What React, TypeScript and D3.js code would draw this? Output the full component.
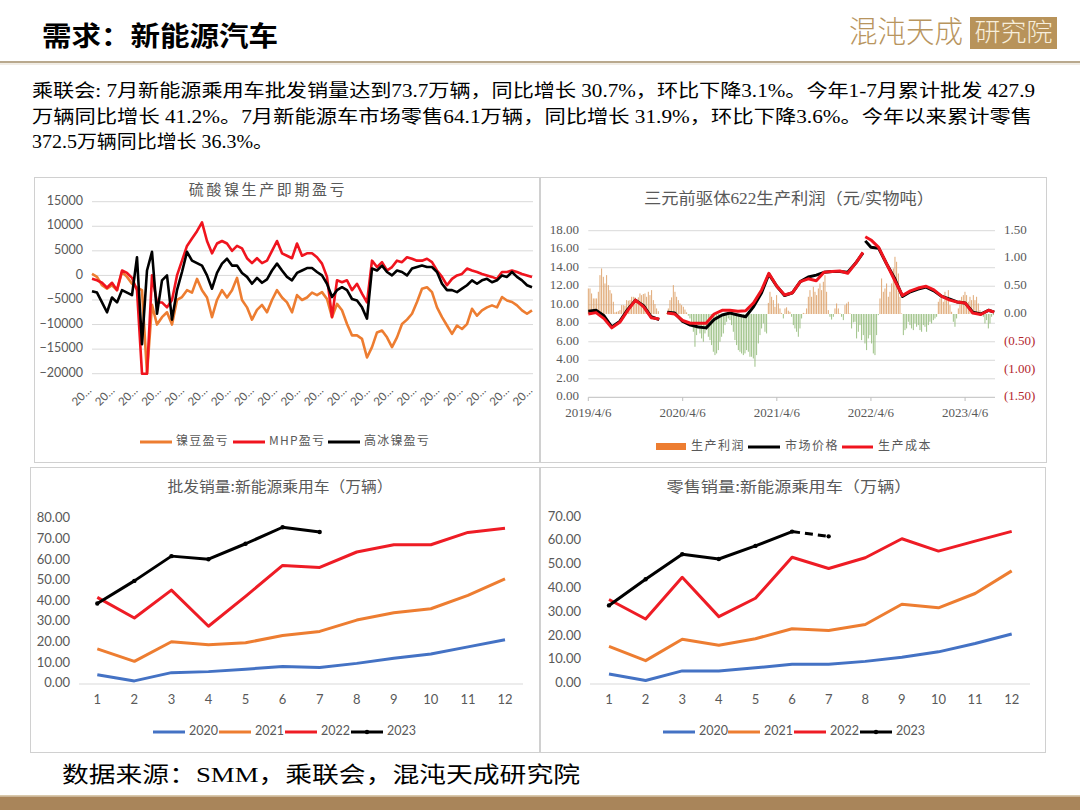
import React from 'react';
import * as d3 from 'd3';

// ---------- header text ----------
const pageTitle = '需求：新能源汽车';
const summaryLines = [
  '乘联会: 7月新能源乘用车批发销量达到73.7万辆，同比增长 30.7%，环比下降3.1%。今年1-7月累计批发 427.9',
  '万辆同比增长 41.2%。7月新能源车市场零售64.1万辆，同比增长 31.9%，环比下降3.6%。今年以来累计零售',
  '372.5万辆同比增长 36.3%。',
];
const sourceText = '数据来源：SMM，乘联会，混沌天成研究院';

// ---------- chart 1: 硫酸镍生产即期盈亏 ----------
const nickelBean = [
  300, -300, -2000, -2700, -2000, -3000, 700, -300, -1700, -2500,
  -3000, -20000, -6000, -10000, -8500, -7500, -10000, -5000, -4400, -3000,
  -3500, -700, -3000, -4500, -8500, -5000, -3000, -4500, -3000, -500,
  -5000, -6500, -9000, -7000, -6000, -7500, -5000, -3000, -4500, -5500,
  -7500, -4000, -5000, -4500, -3500, -4000, -3400, -4800, -8500, -5800,
  -7100, -9900, -12200, -12200, -12900, -16700, -14600, -11600, -11200, -12600,
  -14600, -12600, -9900, -9000, -7800, -5400, -2700, -2400, -3400, -6500,
  -8500, -10200, -11900, -10200, -10900, -9900, -6800, -8200, -7100, -6500,
  -6100, -6500, -4400, -5100, -5400, -6100, -7100, -7800, -7100,
];
const mhpProfit = [
  -700, -1000, -1500, -2500, -1500, -3000, 1000, 500, -500, -3000,
  -20000, -20000, 0, -5500, -5500, -6500, -5000, 0, 3000, 6000,
  7500, 9000, 10800, 7000, 4500, 6500, 7000, 6500, 5000, 6000,
  5500, 3500, 2500, 3500, 2500, 3000, 5000, 7000, 4500, 4000,
  3500, 6500, 4000, 4500, 4500, 3700, 2400, -300, -8500, -1000,
  -1400, -1000, -3000, -1700, -3700, -5500, 3000, 1700, 2700, 1000,
  1700, 3000, 2700, 3700, 3400, 3000, 3000, 3400, 2700, 1000,
  -300, -2000, -700, 0, 300, 1400, 1000, 700, 300, 0,
  -300, -700, 700, 700, 1000, 700, 300, 0, -300,
];
const highMatte = [
  -3200, -3500, -5500, -7500, -4500, -5500, -3000, -3500, -4000, 3700,
  -14000, 1000, 4800, -7800, -1000, 0, -9000, -3000, 700, 4800,
  3000, 2500, 2000, 0, -2700, 500, 2400, 3400, 2000, 2000,
  500, -300, -1700, -500, -1500, -800, 1000, 2400, 1000, -300,
  -1000, 500, 1000, 1500, 1500, 700, 0, -1700, -4400, -3000,
  -2400, -3000, -4800, -5100, -6500, -8800, 1400, 1000, 2000, 700,
  0, 1000, 700, 0, 1400, 1700, 2000, 1700, 1700, 700,
  -1700, -3000, -3000, -3400, -2700, -2000, -1000, -1700, -1000, -700,
  -1400, -1000, 0, -300, 700, -300, -1000, -2000, -2400,
];
const nickelTicks = [15000, 10000, 5000, 0, -5000, -10000, -15000, -20000];
const nickelDateLabels = [
  '20…', '20…', '20…', '20…', '20…', '20…', '20…', '20…', '20…', '20…',
  '20…', '20…', '20…', '20…', '20…', '20…', '20…', '20…', '20…', '20…',
];
const nickelLegend = ['镍豆盈亏', 'MHP盈亏', '高冰镍盈亏'];

// ---------- chart 2: 三元前驱体622生产利润 ----------
const precursorDates = [
  '2019-04-06', '2019-05-06', '2019-06-06', '2019-07-06', '2019-08-06', '2019-09-06',
  '2019-10-06', '2019-11-06', '2019-12-06', '2020-01-06', '2020-01-22', '2020-02-06',
  '2020-03-06', '2020-04-06', '2020-05-06', '2020-06-06', '2020-07-06', '2020-08-06',
  '2020-09-06', '2020-10-06', '2020-11-06', '2020-12-06', '2021-01-06', '2021-02-06',
  '2021-03-06', '2021-04-06', '2021-05-06', '2021-06-06', '2021-07-06', '2021-08-06',
  '2021-09-06', '2021-10-06', '2021-11-06', '2021-12-06', '2022-01-06', '2022-02-06',
  '2022-03-06', '2022-03-10', '2022-03-15', '2022-04-06', '2022-05-06', '2022-06-06',
  '2022-07-06', '2022-08-06', '2022-09-06', '2022-10-06', '2022-11-06', '2022-12-06',
  '2023-01-06', '2023-02-06', '2023-03-06', '2023-04-06', '2023-05-06', '2023-06-06',
  '2023-07-06', '2023-07-28',
];
const marketPrice = [
  9.3, 9.4, 8.8, 7.6, 8.2, 9.5, 10.5, 9.9, 8.7, 8.4, null, 9.2,
  9.1, 8.2, 7.8, 7.6, 7.5, 8.4, 8.9, 9.1, 8.9, 8.7, 9.8, 11.3,
  13.3, 12.0, 11.0, 11.3, 12.5, 13.0, 13.2, 13.5, 13.6, 13.6, 13.5, 14.5,
  15.6, null, 16.9, 16.2, 16.1, 14.4, 12.9, 10.9, 11.4, 11.7, 11.9, 11.5,
  10.9, 10.6, 10.3, 10.2, 9.2, 9.0, 9.4, 9.2,
];
const productionCost = [
  9.0, 9.15, 8.5, 7.5, 8.1, 9.4, 10.5, 9.8, 8.6, 8.45, null, 9.1,
  9.0, 8.3, 8.0, 8.0, 8.0, 9.0, 9.4, 9.4, 9.3, 9.35, 10.2, 11.6,
  13.4, 12.0, 11.05, 11.3, 12.5, 12.8, 12.6, 13.5, 13.6, 13.65, 13.4, 14.5,
  15.65, null, 17.35, 17.0, 16.2, 14.4, 12.7, 11.0, 11.5, 11.8, 12.0, 11.6,
  10.9, 10.5, 10.3, 10.2, 9.1, 8.95, 9.4, 9.2,
];
const productionProfit = [
  0.46, 0.46, 0.37, 0.28, 0.28, 0.28, 0.40, 0.70, 0.82, 0.67, 0.55, 0.70, 0.52, 0.43, 0.37, 0.22,
  0.03, 0.04, 0.05, 0.07, 0.16, 0.16, 0.15, 0.25, 0.24, 0.25, 0.31, 0.31, 0.30, 0.25, 0.30, 0.37,
  0.34, 0.36, 0.37, 0.31, 0.40, 0.34, 0.43, 0.25, 0.18, 0.10, 0.05, 0, 0, 0, 0, 0.02,
  0.10, 0.25, 0.30, 0.52, 0.40, 0.31, 0.25, 0.19, 0.16, 0.13, 0.08, 0.03, -0.03, -0.08, -0.20, -0.32,
  -0.59, -0.38, -0.20, -0.35, -0.44, -0.50, -0.35, -0.29, -0.41, -0.47, -0.56, -0.68, -0.74, -0.71, -0.65, -0.50,
  -0.41, -0.35, -0.20, -0.14, -0.08, -0.11, -0.20, -0.32, -0.47, -0.56, -0.65, -0.68, -0.71, -0.74, -0.71, -0.65,
  -0.68, -0.77, -0.77, -0.80, -0.95, -0.74, -0.53, -0.38, -0.26, -0.17, -0.32, -0.35, 0.20, 0.40, 0.31, 0.25,
  0.13, 0.34, 0.19, 0.10, 0.02, -0.08,
  0.10, 0.12, 0.06, 0.04, -0.05, -0.20, -0.26, -0.32, -0.41, -0.26, -0.08, 0.02, 0.01, 0.10, 0.31, 0.43,
  0.31, 0.49, 0.40, 0.34, 0.46, 0.55, 0.43, 0.58, 0.70, 0.40, 0.07, -0.05, -0.10, -0.05, 0.10, 0.19,
  0.10, 0.01, -0.05, -0.11, 0.16, 0.19, 0.22, 0.01, -0.26, -0.15, -0.14, -0.44, -0.32, -0.20, -0.47, -0.38,
  -0.53, -0.65, -0.44, -0.38, -0.53, -0.71, -0.74, -0.38, -0.02, 0.28, 0.64, 0.40, 0.46, 0.55, 0.31, 0.40,
  0.55, 0.82, 1.03, 0.94, 0.73, 0.31, 0.01, -0.38, -0.29, -0.26, -0.14, -0.20, -0.26, -0.29, -0.17, -0.23,
  -0.20, -0.29, -0.32, -0.20, -0.23, -0.32, -0.20, -0.14, -0.17, -0.11, -0.08, -0.05, 0.22, 0.28, 0.31, 0.22,
  0.40, 0.28, 0.43, 0.16, 0.04, -0.14, -0.23, -0.08, 0.10, 0.25, 0.31, 0.34, 0.40, 0.34, 0.22, 0.31,
  0.25, 0.34, 0.25, 0.31, 0.19, 0.07, 0.04, -0.05, -0.17, -0.11, -0.26, -0.17, -0.05, -0.02,
];
const precursorLeftTicks = [0, 2, 4, 6, 8, 10, 12, 14, 16, 18];
const precursorRightTicks = [1.5, 1, 0.5, 0, -0.5, -1, -1.5];
const precursorDateTicks = ['2019/4/6', '2020/4/6', '2021/4/6', '2022/4/6', '2023/4/6'];
const precursorLegend = ['生产利润', '市场价格', '生产成本'];

// ---------- charts 3 & 4: 新能源乘用车 ----------
const months = ['1', '2', '3', '4', '5', '6', '7', '8', '9', '10', '11', '12'];
const years = ['2020', '2021', '2022', '2023'];
const wholesale2020 = [4.5, 1.5, 5.5, 6.0, 7.2, 8.5, 8.0, 10.0, 12.5, 14.5, 18.0, 21.5];
const wholesale2021 = [17.0, 11.0, 20.5, 19.0, 20.0, 23.5, 25.5, 31.0, 34.5, 36.5, 43.0, 51.0];
const wholesale2022 = [42.0, 32.0, 45.5, 28.0, 42.5, 57.5, 56.5, 64.0, 67.5, 67.5, 73.5, 75.5];
const wholesale2023 = [39.0, 50.0, 62.0, 60.5, 68.0, 76.0, 73.7];
const retail2020 = [4.2, 1.5, 5.5, 5.5, 6.8, 8.3, 8.3, 9.5, 11.2, 13.5, 17.0, 21.0];
const retail2021 = [15.8, 9.8, 18.8, 16.3, 19.0, 23.2, 22.5, 25.0, 33.5, 32.0, 38.0, 47.5];
const retail2022 = [35.5, 27.3, 44.8, 28.3, 36.0, 53.2, 48.5, 53.0, 61.0, 55.8, 60.0, 64.1];
const retail2023 = [33.0, 44.0, 54.5, 52.5, 58.0, 64.0, 62.0];
const wholesaleTicks = [0, 10, 20, 30, 40, 50, 60, 70, 80];
const retailTicks = [0, 10, 20, 30, 40, 50, 60, 70];

const yearColors = ['#4472C4', '#ED7D31', '#EE1C25', '#000000'];
const nickelColors = ['#ED7D31', '#F0141E', '#000000'];

const SANS = "Lato, 'Noto Sans CJK SC', sans-serif";
const CJK = "'Noto Sans CJK SC', sans-serif";
const SERIF = "'Liberation Serif', 'DejaVu Serif', 'Noto Sans CJK SC', serif";
const GRID = '#d9d9d9';
const LABEL = '#595959';

function NickelChart() {
  const x = d3.scaleLinear().domain([0, nickelBean.length - 1]).range([92, 532]);
  const y = d3.scaleLinear().domain([-20000, 15000]).range([373.7, 201.7]);
  const tx = d3.scaleLinear().domain([0, nickelDateLabels.length - 1]).range([92, 533]);
  const line = d3.line<number>().x((_, i) => x(i)).y((v) => y(v));
  const fmt = d3.format('d');
  const series = [nickelBean, mhpProfit, highMatte];
  const legendX = [140, 233, 328];
  return (
    <g>
      <text x={268} y={191} textAnchor="middle" dominantBaseline="middle" fontFamily={CJK} fontSize={15} fill={LABEL} letterSpacing={2.6}>
        硫酸镍生产即期盈亏
      </text>
      {nickelTicks.map((t) => (
        <g key={t}>
          <line x1={92} x2={533} y1={y(t)} y2={y(t)} stroke={GRID} strokeWidth={1} />
          <text x={83} y={y(t)} textAnchor="end" dominantBaseline="middle" fontFamily={SANS} fontSize={12.5} fill={LABEL}>
            {fmt(t)}
          </text>
        </g>
      ))}
      {series.map((s, k) => (
        <path key={k} d={line(s) || ''} fill="none" stroke={nickelColors[k]} strokeWidth={2.6} strokeLinejoin="round" />
      ))}
      {nickelDateLabels.map((lab, i) => (
        <text key={i} transform={`translate(${tx(i) - 2},${389}) rotate(-45)`} textAnchor="end" dominantBaseline="middle" fontFamily={SANS} fontSize={11.5} fill={LABEL}>
          {lab}
        </text>
      ))}
      {nickelLegend.map((lab, k) => (
        <g key={lab}>
          <line x1={legendX[k]} x2={legendX[k] + 32} y1={442} y2={442} stroke={nickelColors[k]} strokeWidth={3} />
          <text x={legendX[k] + 36} y={442} dominantBaseline="middle" fontFamily={CJK} fontSize={12} fill={LABEL} letterSpacing={1.2}>
            {lab}
          </text>
        </g>
      ))}
    </g>
  );
}

function PrecursorChart() {
  const parse = d3.timeParse('%Y-%m-%d');
  const parseTick = d3.timeParse('%Y/%m/%d');
  const dates = precursorDates.map((d) => parse(d) as Date);
  const x = d3.scaleTime().domain([parse('2019-04-06') as Date, parse('2023-07-31') as Date]).range([588.3, 995]);
  const yL = d3.scaleLinear().domain([0, 18]).range([397.3, 230.7]);
  const yR = d3.scaleLinear().domain([-1.5, 1.5]).range([397.3, 230.7]);
  const xb = d3.scaleLinear().domain([0, productionProfit.length - 1]).range([588.3, 993.3]);
  const line = d3
    .line<number | null>()
    .defined((v) => v != null)
    .x((_, i) => x(dates[i]))
    .y((v) => yL(v as number));
  const fmtL = d3.format('.2f');
  const fmtR = (v: number) => (v < 0 ? `(${d3.format('.2f')(-v)})` : d3.format('.2f')(v));
  return (
    <g>
      <text x={789} y={200} textAnchor="middle" dominantBaseline="middle" fontFamily={SERIF} fontSize={16} fill={LABEL} textLength={290} lengthAdjust="spacingAndGlyphs">
        三元前驱体622生产利润（元/实物吨）
      </text>
      {precursorLeftTicks.map((t) => (
        <g key={t}>
          <line x1={588.3} x2={995} y1={yL(t)} y2={yL(t)} stroke={t === 0 ? '#bfbfbf' : GRID} strokeWidth={1} />
          <text x={579} y={yL(t)} textAnchor="end" dominantBaseline="middle" fontFamily={SERIF} fontSize={13} fill={LABEL}>
            {fmtL(t)}
          </text>
        </g>
      ))}
      {precursorRightTicks.map((t) => (
        <text key={t} x={1004} y={yR(t)} dominantBaseline="middle" fontFamily={SERIF} fontSize={13} fill={t < 0 ? '#B3262E' : LABEL}>
          {fmtR(t)}
        </text>
      ))}
      {productionProfit.map((v, i) => (
        <rect
          key={i}
          x={xb(i) - 0.45}
          width={0.9}
          y={Math.min(yR(v), yR(0))}
          height={Math.abs(yR(v) - yR(0))}
          fill={v >= 0 ? '#DDA068' : '#93BB7A'}
        />
      ))}
      <path d={line(marketPrice) || ''} fill="none" stroke="#000" strokeWidth={3} strokeLinejoin="round" />
      <path d={line(productionCost) || ''} fill="none" stroke="#F0141E" strokeWidth={3} strokeLinejoin="round" />
      {precursorDateTicks.map((t) => {
        const px = x(parseTick(t) as Date);
        return (
          <g key={t}>
            <line x1={px} x2={px} y1={397.3} y2={401} stroke="#bfbfbf" />
            <text x={px} y={414} textAnchor="middle" dominantBaseline="middle" fontFamily={SERIF} fontSize={13} fill={LABEL}>
              {t}
            </text>
          </g>
        );
      })}
      <rect x={656} y={443} width={30} height={7} fill="#ED7D31" />
      <text x={691} y={447} dominantBaseline="middle" fontFamily={CJK} fontSize={12} fill={LABEL} letterSpacing={1.5}>
        {precursorLegend[0]}
      </text>
      <line x1={748} x2={780} y1={447} y2={447} stroke="#000" strokeWidth={3} />
      <text x={785} y={447} dominantBaseline="middle" fontFamily={CJK} fontSize={12} fill={LABEL} letterSpacing={1.5}>
        {precursorLegend[1]}
      </text>
      <line x1={842} x2={873} y1={447} y2={447} stroke="#F0141E" strokeWidth={3} />
      <text x={878} y={447} dominantBaseline="middle" fontFamily={CJK} fontSize={12} fill={LABEL} letterSpacing={1.5}>
        {precursorLegend[2]}
      </text>
    </g>
  );
}

type SalesProps = {
  title: string;
  titleX: number;
  titleWidth: number;
  data: number[][];
  ticks: number[];
  xRange: [number, number];
  yMax: number;
  yTop: number;
  labelX: number;
  axisRange: [number, number];
  legendX: number[];
  dashedLast: boolean;
};

function SalesChart(p: SalesProps) {
  const x = d3.scalePoint<string>().domain(months).range(p.xRange);
  const y = d3.scaleLinear().domain([0, p.yMax]).range([684, p.yTop]);
  const line = d3.line<number>().x((_, i) => x(months[i]) as number).y((v) => y(v));
  const fmt = d3.format('.2f');
  const last = p.data[3];
  return (
    <g>
      <text x={p.titleX} y={488} textAnchor="middle" dominantBaseline="middle" fontFamily={CJK} fontSize={15} fill={LABEL} textLength={p.titleWidth} lengthAdjust="spacingAndGlyphs">
        {p.title}
      </text>
      {p.ticks.map((t) => (
        <text key={t} x={p.labelX} y={y(t)} textAnchor="end" dominantBaseline="middle" fontFamily={SANS} fontSize={13} fill={LABEL}>
          {fmt(t)}
        </text>
      ))}
      <line x1={p.axisRange[0]} x2={p.axisRange[1]} y1={684} y2={684} stroke={GRID} strokeWidth={1} />
      {months.map((m) => (
        <text key={m} x={x(m)} y={701} textAnchor="middle" dominantBaseline="middle" fontFamily={SANS} fontSize={13} fill={LABEL}>
          {m}
        </text>
      ))}
      {p.data.slice(0, 3).map((s, k) => (
        <path key={k} d={line(s) || ''} fill="none" stroke={yearColors[k]} strokeWidth={3} strokeLinejoin="round" />
      ))}
      {p.dashedLast ? (
        <g>
          <path d={line(last.slice(0, 6)) || ''} fill="none" stroke="#000" strokeWidth={3} strokeLinejoin="round" />
          <path
            d={`M${x(months[5])},${y(last[5])}L${x(months[6])},${y(last[6])}`}
            fill="none"
            stroke="#000"
            strokeWidth={3}
            strokeDasharray="8,5"
          />
        </g>
      ) : (
        <path d={line(last) || ''} fill="none" stroke="#000" strokeWidth={3} strokeLinejoin="round" />
      )}
      {last.map((v, i) => (
        <circle key={i} cx={x(months[i])} cy={y(v)} r={2.2} fill="#000" />
      ))}
      {years.map((yr, k) => (
        <g key={yr}>
          <line x1={p.legendX[k]} x2={p.legendX[k] + 32} y1={732} y2={732} stroke={yearColors[k]} strokeWidth={3} />
          {k === 3 ? <circle cx={p.legendX[k] + 16} cy={732} r={2.2} fill="#000" /> : null}
          <text x={p.legendX[k] + 36} y={732} dominantBaseline="middle" fontFamily={SANS} fontSize={12.5} fill={LABEL}>
            {yr}
          </text>
        </g>
      ))}
    </g>
  );
}

export default function App() {
  return (
    <div style={{ position: 'absolute', left: 0, top: 0, width: 1080, height: 810 }}>
      <svg width={1080} height={810} viewBox="0 0 1080 810" style={{ display: 'block', background: '#fff' }}>
        {/* header */}
        <text x={42} y={39} dominantBaseline="middle" fontFamily={CJK} fontWeight={700} fontSize={27} fill="#000" textLength={236} lengthAdjust="spacingAndGlyphs">
          {pageTitle}
        </text>
        <text x={849} y={34} dominantBaseline="middle" fontFamily={CJK} fontWeight={300} fontSize={30} fill="#B8955E" textLength={114} lengthAdjust="spacingAndGlyphs">
          混沌天成
        </text>
        <rect x={970} y={17} width={87} height={32} fill="#B8935A" />
        <text x={1013.5} y={34} textAnchor="middle" dominantBaseline="middle" fontFamily={CJK} fontWeight={300} fontSize={25} fill="#F7EEDC" textLength={78} lengthAdjust="spacingAndGlyphs">
          研究院
        </text>
        <line x1={0} x2={1080} y1={62} y2={62} stroke="#B9A98E" strokeWidth={2} />
        <line x1={0} x2={1080} y1={64} y2={64} stroke="#E3DACB" strokeWidth={1} />

        {summaryLines.map((l, i) => (
          <text
            key={i}
            x={32}
            y={93 + i * 25.5}
            dominantBaseline="middle"
            fontFamily={SERIF}
            fontSize={18}
            fill="#000"
            textLength={[1003, 1000, 241][i]}
            lengthAdjust="spacingAndGlyphs"
          >
            {l}
          </text>
        ))}

        {/* panels */}
        <rect x={34.5} y={177.5} width={505} height={285} fill="none" stroke="#d0d0d0" />
        <rect x={540.5} y={177.5} width={506} height={285} fill="none" stroke="#d0d0d0" />
        <rect x={30.5} y={467.5} width={509} height={285} fill="none" stroke="#d0d0d0" />
        <rect x={540.5} y={467.5} width={505} height={285} fill="none" stroke="#d0d0d0" />

        <NickelChart />
        <PrecursorChart />
        <SalesChart
          title="批发销量:新能源乘用车（万辆）"
          titleX={280}
          titleWidth={225}
          data={[wholesale2020, wholesale2021, wholesale2022, wholesale2023]}
          ticks={wholesaleTicks}
          xRange={[97.3, 505]}
          yMax={80}
          yTop={519}
          labelX={70}
          axisRange={[79, 523]}
          legendX={[153, 219, 285, 351]}
          dashedLast={false}
        />
        <SalesChart
          title="零售销量:新能源乘用车（万辆）"
          titleX={789}
          titleWidth={245}
          data={[retail2020, retail2021, retail2022, retail2023]}
          ticks={retailTicks}
          xRange={[609, 1011.7]}
          yMax={70}
          yTop={517.3}
          labelX={581}
          axisRange={[590, 1030]}
          legendX={[663, 728, 794, 860]}
          dashedLast={true}
        />

        {/* footer */}
        <text x={62} y={777} dominantBaseline="middle" fontFamily={SERIF} fontSize={22} fill="#000" textLength={518} lengthAdjust="spacingAndGlyphs">
          {sourceText}
        </text>
        <rect x={0} y={795} width={1080} height={1.5} fill="#D9C9AC" />
        <rect x={0} y={796.5} width={1080} height={13.5} fill="#A9855A" />
      </svg>
    </div>
  );
}
